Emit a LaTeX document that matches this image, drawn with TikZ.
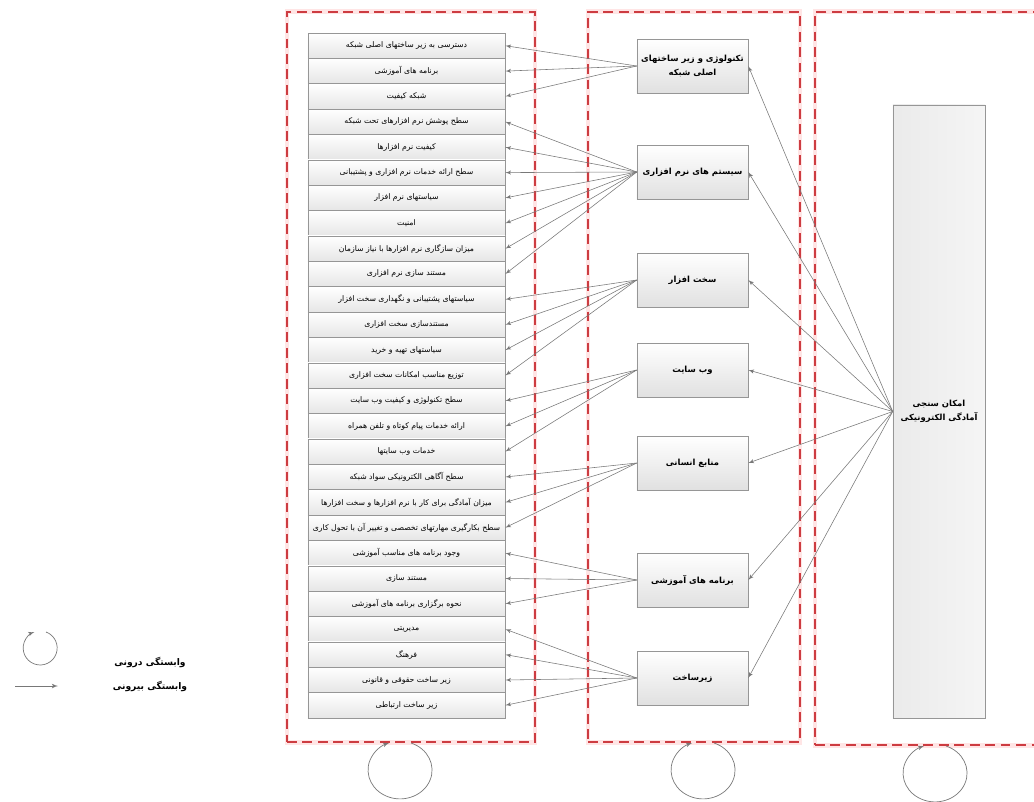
\documentclass[tikz,border=0pt]{standalone}
\usepackage{fontspec}
\newfontfamily\arabicfont[Script=Arabic]{DejaVu Sans}
\TeXXeTstate=1
\usetikzlibrary{positioning,arrows}
\newcommand{\fatext}[1]{{\arabicfont\beginR #1\endR}}
\definecolor{framered}{RGB}{205,60,65}
\definecolor{linegray}{RGB}{120,120,120}
\definecolor{boxgray}{RGB}{150,150,150}
\tikzset{
    x=0.025cm,
    y=-0.025cm,
    item/.style = {
        draw=boxgray,
        shape=rectangle,
        top color=white,
        bottom color=black!10,
        minimum width=4.925cm,
        minimum height=0.635cm,
        inner sep=1pt,
        font=\fontsize{5.5}{6}\selectfont
    },
    factor/.style = {
        draw=boxgray,
        shape=rectangle,
        top color=white,
        bottom color=black!12,
        minimum width=2.775cm,
        minimum height=1.35cm,
        inner sep=2pt,
        align=center,
        font=\fontsize{6}{10}\selectfont\bfseries
    },
    target/.style = {
        draw=boxgray,
        shape=rectangle,
        left color=black!8,
        right color=black!4,
        minimum width=2.3cm,
        minimum height=15.325cm,
        align=center,
        font=\fontsize{6}{10}\selectfont\bfseries
    },
    frame/.style = {
        draw=framered,
        shape=rectangle,
        dash pattern=on 7pt off 4pt,
        line width=1.3pt,
        preaction={draw=red!10, line width=3.5pt, solid}
    },
    dep/.style = {
        draw=linegray,
        line width=0.4pt,
        ->
    },
    selfloop/.style = {
        draw=linegray,
        line width=0.5pt,
        ->
    },
    legendtext/.style = {
        font=\fontsize{6.5}{8}\selectfont\bfseries
    },
    >=latex',
}

\begin{document}
\begin{tikzpicture}
            \useasboundingbox (0,0) rectangle (1034,802);

            \node[frame, minimum width=6.2cm, minimum height=18.25cm] (leftframe) at (411,377) {};
            \node[frame, minimum width=5.3cm, minimum height=18.25cm] (midframe) at (694,377) {};
            \node[frame, minimum width=6.25cm, minimum height=18.325cm] (rightframe) at (940,378.5) {};

            \node[item] (it1) at (406.5,45.7) {\fatext{دسترسی به زیر ساختهای اصلی شبکه}};
            \node[item] (it2) at (406.5,71.1) {\fatext{برنامه های آموزشی}};
            \node[item] (it3) at (406.5,96.4) {\fatext{شبکه کیفیت}};
            \node[item] (it4) at (406.5,121.8) {\fatext{سطح پوشش نرم افزارهای تحت شبکه}};
            \node[item] (it5) at (406.5,147.2) {\fatext{کیفیت نرم افزارها}};
            \node[item] (it6) at (406.5,172.6) {\fatext{سطح ارائه خدمات نرم افزاری و پشتیبانی}};
            \node[item] (it7) at (406.5,197.9) {\fatext{سیاستهای نرم افزار}};
            \node[item] (it8) at (406.5,223.3) {\fatext{امنیت}};
            \node[item] (it9) at (406.5,248.7) {\fatext{میزان سازگاری نرم افزارها با نیاز سازمان}};
            \node[item] (it10) at (406.5,274.0) {\fatext{مستند سازی نرم افزاری}};
            \node[item] (it11) at (406.5,299.4) {\fatext{سیاستهای پشتیبانی و نگهداری سخت افزار}};
            \node[item] (it12) at (406.5,324.8) {\fatext{مستندسازی سخت افزاری}};
            \node[item] (it13) at (406.5,350.1) {\fatext{سیاستهای تهیه و خرید}};
            \node[item] (it14) at (406.5,375.5) {\fatext{توزیع مناسب امکانات سخت افزاری}};
            \node[item] (it15) at (406.5,400.9) {\fatext{سطح تکنولوژی و کیفیت وب سایت}};
            \node[item] (it16) at (406.5,426.3) {\fatext{ارائه خدمات پیام کوتاه و تلفن همراه}};
            \node[item] (it17) at (406.5,451.6) {\fatext{خدمات وب سایتها}};
            \node[item] (it18) at (406.5,477.0) {\fatext{سطح آگاهی الکترونیکی سواد شبکه}};
            \node[item] (it19) at (406.5,502.4) {\fatext{میزان آمادگی برای کار با نرم افزارها و سخت افزارها}};
            \node[item] (it20) at (406.5,527.7) {\fatext{سطح بکارگیری مهارتهای تخصصی و تغییر آن با تحول کاری}};
            \node[item] (it21) at (406.5,553.1) {\fatext{وجود برنامه های مناسب آموزشی}};
            \node[item] (it22) at (406.5,578.5) {\fatext{مستند سازی}};
            \node[item] (it23) at (406.5,603.8) {\fatext{نحوه برگزاری برنامه های آموزشی}};
            \node[item] (it24) at (406.5,629.2) {\fatext{مدیریتی}};
            \node[item] (it25) at (406.5,654.6) {\fatext{فرهنگ}};
            \node[item] (it26) at (406.5,680.0) {\fatext{زیر ساخت حقوقی و قانونی}};
            \node[item] (it27) at (406.5,705.3) {\fatext{زیر ساخت ارتباطی}};

            \node[factor] (tech) at (692.5,66) {\fatext{تکنولوژی و زیر ساختهای}\\\fatext{اصلی شبکه}};
            \node[factor] (software) at (692.5,172) {\fatext{سیستم های نرم افزاری}};
            \node[factor] (hardware) at (692.5,280) {\fatext{سخت افزار}};
            \node[factor] (website) at (692.5,370) {\fatext{وب سایت}};
            \node[factor] (human) at (692.5,463) {\fatext{منابع انسانی}};
            \node[factor] (training) at (692.5,580) {\fatext{برنامه های آموزشی}};
            \node[factor] (infra) at (692.5,678) {\fatext{زیرساخت}};

            \node[target] (readiness) at (939,411.5) {\fatext{امکان سنجی}\\\fatext{آمادگی الکترونیکی}};

            \path[dep] (tech.west) -- (it1.east);
            \path[dep] (tech.west) -- (it2.east);
            \path[dep] (tech.west) -- (it3.east);

            \path[dep] (software.west) -- (it4.east);
            \path[dep] (software.west) -- (it5.east);
            \path[dep] (software.west) -- (it6.east);
            \path[dep] (software.west) -- (it7.east);
            \path[dep] (software.west) -- (it8.east);
            \path[dep] (software.west) -- (it9.east);
            \path[dep] (software.west) -- (it10.east);

            \path[dep] (hardware.west) -- (it11.east);
            \path[dep] (hardware.west) -- (it12.east);
            \path[dep] (hardware.west) -- (it13.east);
            \path[dep] (hardware.west) -- (it14.east);

            \path[dep] (website.west) -- (it15.east);
            \path[dep] (website.west) -- (it16.east);
            \path[dep] (website.west) -- (it17.east);

            \path[dep] (human.west) -- (it18.east);
            \path[dep] (human.west) -- (it19.east);
            \path[dep] (human.west) -- (it20.east);

            \path[dep] (training.west) -- (it21.east);
            \path[dep] (training.west) -- (it22.east);
            \path[dep] (training.west) -- (it23.east);

            \path[dep] (infra.west) -- (it24.east);
            \path[dep] (infra.west) -- (it25.east);
            \path[dep] (infra.west) -- (it26.east);
            \path[dep] (infra.west) -- (it27.east);

            \path[dep] (readiness.west) -- (tech.east);
            \path[dep] (readiness.west) -- (software.east);
            \path[dep] (readiness.west) -- (hardware.east);
            \path[dep] (readiness.west) -- (website.east);
            \path[dep] (readiness.west) -- (human.east);
            \path[dep] (readiness.west) -- (training.east);
            \path[dep] (readiness.west) -- (infra.east);

            \path[selfloop] ([xshift=0cm]leftframe.south) arc[start angle=70, end angle=-250, x radius=0.8cm, y radius=0.72cm];
            \path[selfloop] ([xshift=0.5cm]midframe.south) arc[start angle=70, end angle=-250, x radius=0.8cm, y radius=0.72cm];
            \path[selfloop] ([xshift=0.15cm]rightframe.south) arc[start angle=70, end angle=-250, x radius=0.8cm, y radius=0.72cm];

            \coordinate (intloop) at (46,632);
            \coordinate (extstart) at (15,686);
            \coordinate (extend) at (58,686);
            \path[selfloop] (intloop) arc[start angle=70, end angle=-250, radius=0.425cm];
            \path[selfloop] (extstart) -- (extend);
            \node[legendtext] (intlabel) at (150,662) {\fatext{وابستگی درونی}};
            \node[legendtext] (extlabel) at (150,686) {\fatext{وابستگی بیرونی}};

        \end{tikzpicture}
\end{document}
